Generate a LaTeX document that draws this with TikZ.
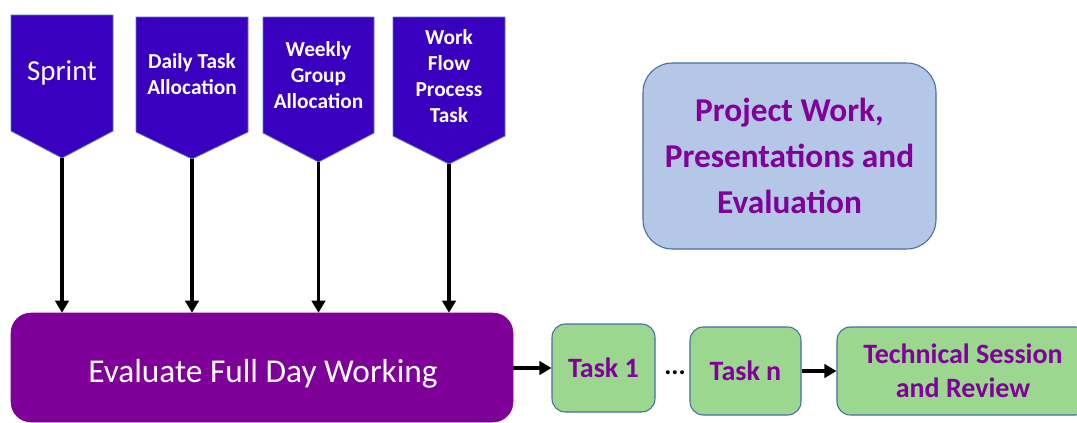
\documentclass[tikz,border=0pt]{standalone}
\usepackage{fontspec}
\setmainfont{Carlito}
\usetikzlibrary{arrows.meta}
\definecolor{pentfill}{RGB}{58,0,192}
\definecolor{pentdraw}{RGB}{95,120,190}
\definecolor{mainfill}{RGB}{127,0,153}
\definecolor{greenfill}{RGB}{155,215,142}
\definecolor{boxdraw}{RGB}{70,110,160}
\definecolor{bluefill}{RGB}{180,199,231}
\definecolor{purpletext}{RGB}{128,0,153}
\begin{document}
\begin{tikzpicture}[x=0.75pt,y=-0.75pt,
  pent/.style={fill=pentfill,draw=pentdraw,line width=0.6pt},
  penttext/.style={text=white,font=\bfseries\fontsize{16}{19.5}\selectfont,align=center,inner sep=0pt},
  arr/.style={line width=2.6pt,-{Triangle[length=9pt,width=10pt]}},
  mainbox/.style={fill=mainfill,draw=mainfill,rounded corners=15pt,inner sep=0pt},
  greenbox/.style={draw=boxdraw,fill=greenfill,line width=0.8pt,rounded corners=10pt,
    text=purpletext,font=\bfseries\fontsize{21}{25.5}\selectfont,align=center,inner sep=0pt,
    minimum height=66pt},
  bluebox/.style={draw=boxdraw,fill=bluefill,line width=0.8pt,rounded corners=22pt,
    text=purpletext,font=\bfseries\fontsize{25}{34.5}\selectfont,align=center,inner sep=0pt}
]
\clip (0,0) rectangle (1077,422);
\fill[white] (0,0) rectangle (1077,422);

% pentagons
\path[pent] (11,15) -- (113,15) -- (113,131) -- (62,158) -- (11,131) -- cycle;
\coordinate (t1) at (62,158);
\node[text=white,font=\fontsize{21.7}{26}\selectfont,inner sep=0pt] (p1) at (62,73) {Sprint};

\path[pent] (136,17) -- (248,17) -- (248,132) -- (192,159) -- (136,132) -- cycle;
\coordinate (t2) at (192,159);
\node[penttext] (p2) at (192,74.5) {Daily Task\\Allocation};

\path[pent] (263,17) -- (374,17) -- (374,133) -- (318.5,162) -- (263,133) -- cycle;
\coordinate (t3) at (318.5,162);
\node[penttext] (p3) at (318.5,75) {Weekly\\Group\\Allocation};

\path[pent] (393,17) -- (505,17) -- (505,136) -- (449,164) -- (393,136) -- cycle;
\coordinate (t4) at (449,164);
\node[penttext] (p4) at (449,76.5) {Work\\Flow\\Process\\Task};

% main box
\node[mainbox,minimum width=376.5pt,minimum height=81.75pt] (main) at (262,367.5) {};
\node[text=white,font=\fontsize{25}{30}\selectfont,inner sep=0pt] (maintxt) at (263,373.5) {Evaluate Full Day Working};

% project box
\node[bluebox,minimum width=219.75pt,minimum height=139.5pt] (proj) at (789.5,156)
  {Project Work,\\Presentations and\\Evaluation};

% task boxes
\node[greenbox,minimum width=77.25pt] (task1) at (603.5,368) {Task 1};
\node[greenbox,minimum width=83.25pt] (taskn) at (745.5,371) {Task n};
\node[greenbox,minimum width=189pt] (tech) at (963,371) {Technical Session\\and Review};
\node[font=\bfseries\fontsize{20}{24}\selectfont,inner sep=0pt] (dots) at (675,373) {...};

% arrows
\draw[arr] (t1) -- (t1 |- main.north);
\draw[arr] (t2) -- (t2 |- main.north);
\draw[arr] (t3) -- (t3 |- main.north);
\draw[arr] (t4) -- (t4 |- main.north);
\draw[arr] (main.east |- task1.west) -- (task1.west);
\draw[arr] (taskn.east) -- (tech.west);
\end{tikzpicture}
\end{document}
